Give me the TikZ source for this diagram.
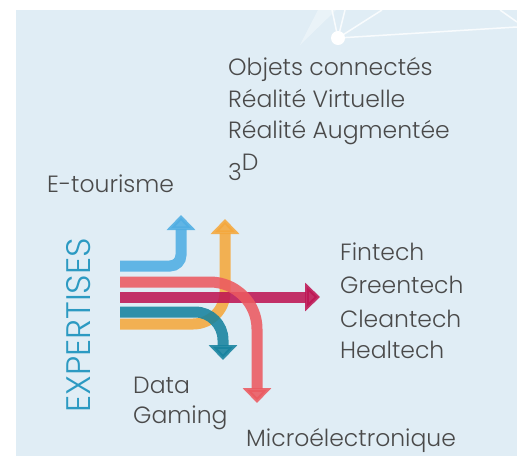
\documentclass[tikz,border=0pt]{standalone}
\usepackage{fontspec}
\setmainfont{Poppins Light}
\usetikzlibrary{arrows.meta}

\definecolor{fond}{HTML}{E0EDF5}
\definecolor{gristxt}{HTML}{4A4A4A}
\definecolor{bleuclair}{HTML}{4FAEE3}
\definecolor{saumon}{HTML}{EC5A60}
\definecolor{framboise}{HTML}{BE1654}
\definecolor{petrole}{HTML}{17839F}
\definecolor{orange}{HTML}{F5A83C}
\definecolor{titre}{HTML}{2C9AC2}

\tikzset{
	band/.style={line width=11pt, opacity=0.88, -{Triangle[width=28pt,length=15pt]}},
	txt/.style={anchor=base west, inner sep=0pt, text=gristxt, font=\fontsize{23.5}{28}\selectfont},
}

\begin{document}
\begin{tikzpicture}[x=1pt,y=-1pt]

		\useasboundingbox (0,0) rectangle (522,456);
		\fill[white] (0,0) rectangle (522,456);
		\fill[fond] (16,10) rectangle (517,456);

		% motif du fond
		\fill[white,opacity=0.35] (300,45) -- (318,10) -- (336,10) -- cycle;
		\draw[white,line width=1.5pt,opacity=0.8] (338,38) -- (332,10);
		\draw[white,line width=1.5pt,opacity=0.8] (338,38) -- (345,10);
		\draw[white,line width=1.5pt,opacity=0.8] (338,38) -- (382,10);
		\draw[white,line width=1.5pt,opacity=0.8] (338,38) -- (517,27);
		\draw[white,line width=1.5pt,opacity=0.8] (500,10) -- (517,22);
		\fill[white] (338,38) circle (7);

		\draw[band,orange,rounded corners=32pt] (120,324) -- (225,324) -- (225,219);
		\draw[band,petrole,rounded corners=28pt] (120,312) -- (223,312) -- (223,360);
		\draw[band,bleuclair,rounded corners=11pt] (120,266) -- (181,266) -- (181,215);
		\draw[band,framboise] (120,297) -- (320,297);
		\draw[band,saumon,rounded corners=47pt] (120,282) -- (257,282) -- (257,403);

		\node[rotate=90,anchor=base west,inner sep=0pt,text=titre,font=\fontsize{34}{34}\selectfont] (expertises) at (90,413) {EXPERTISES};

		\node[txt] (objets) at (228,75) {Objets connectés};
		\node[txt] (virtuelle) at (228,107) {Réalité Virtuelle};
		\node[txt] (augmentee) at (228,138) {Réalité Augmentée};
		\node[txt] (troisd) at (228,170) {\raisebox{-10pt}{3}D};

		\node[txt] (etourisme) at (47,192) {E-tourisme};

		\node[txt] (fintech) at (340,260) {Fintech};
		\node[txt] (greentech) at (340,293) {Greentech};
		\node[txt] (cleantech) at (340,327) {Cleantech};
		\node[txt] (healtech) at (340,358) {Healtech};

		\node[txt] (data) at (133,393) {Data};
		\node[txt] (gaming) at (133,423) {Gaming};

		\node[txt] (micro) at (246,446) {Microélectronique};

	\end{tikzpicture}
\end{document}
